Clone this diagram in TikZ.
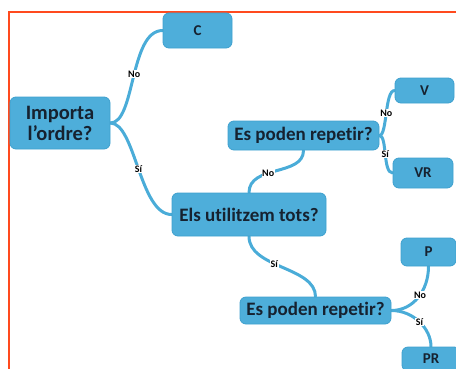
\documentclass[tikz,border=0pt]{standalone}
\usepackage{fontspec}
\setmainfont{Carlito}[Ligatures={NoCommon}]
\definecolor{boxblue}{RGB}{78,174,218}
\definecolor{boxedge}{RGB}{62,160,206}
\definecolor{lineblue}{RGB}{74,172,216}
\definecolor{txt}{RGB}{22,34,48}
\definecolor{frame}{RGB}{255,74,30}
\pgfdeclarelayer{background}
\pgfsetlayers{background,main}
\tikzset{
  box/.style={rectangle, rounded corners=6pt, fill=boxblue, draw=boxedge, line width=0.8pt,
    text=txt, inner sep=0pt, align=center},
  small/.style={font=\fontsize{15}{17}\selectfont\bfseries},
  big/.style={font=\fontsize{19}{21}\selectfont\bfseries},
  conn/.style={draw=lineblue, line width=3pt, line cap=round},
  lbl/.style={fill=white, inner sep=0.6pt, text=black, font=\fontsize{10}{11}\selectfont\bfseries}
}
\begin{document}
\begin{tikzpicture}[x=1pt,y=-1pt]
\useasboundingbox (0,0) rectangle (456,368);
\draw[frame, line width=2.4pt] (9,12) rectangle (480,400);

\node[box, small, minimum width=69pt, minimum height=35pt] (C) at (197.5,30.5) {C};
\node[box, minimum width=100pt, minimum height=52pt, font=\fontsize{20.5}{21}\selectfont\bfseries] (imp) at (60,123) {Importa\\l\char39ordre?};
\node[box, big, minimum width=151pt, minimum height=29pt] (est) at (303.5,135.5) {Es poden repetir?};
\node[box, small, minimum width=59pt, minimum height=25pt] (V) at (424.5,90.5) {V};
\node[box, small, minimum width=60pt, minimum height=30pt] (VR) at (423,173) {VR};
\node[box, big, minimum width=154pt, minimum height=43pt] (els) at (249,214.5) {Els utilitzem tots?};
\node[box, big, minimum width=151pt, minimum height=27pt] (esb) at (315.5,310.5) {Es poden repetir?};
\node[box, small, minimum width=55pt, minimum height=28pt] (P) at (428.5,252) {P};
\node[box, small, minimum width=58pt, minimum height=24pt, text depth=0pt] (PR) at (431,359) {PR};

\begin{pgfonlayer}{background}
\path[conn] (imp.east) .. controls +(25,0) and +(-33,0) .. (C.west) node[lbl, pos=0.52] {No};
\path[conn] (imp.east) .. controls +(25,0) and +(-32,0) .. (els.west) node[lbl, pos=0.5] {Sí};
\path[conn] (els.north) .. controls +(0,-28) and +(0,26) .. (est.south) node[lbl, pos=0.4] {No};
\path[conn] (els.south) .. controls +(0,32) and +(0,-30) .. (esb.north) node[lbl, pos=0.42] {Sí};
\path[conn] (est.east) .. controls +(8,0) and +(-10,0) .. (V.west) node[lbl, pos=0.5] {No};
\path[conn] (est.east) .. controls +(8,0) and +(-10,0) .. (VR.west) node[lbl, pos=0.5] {Sí};
\path[conn] (esb.east) .. controls +(22,0) and +(0,24) .. (P.south) node[lbl, pos=0.55] {No};
\path[conn] (esb.east) .. controls +(22,0) and +(0,-18) .. (PR.north) node[lbl, pos=0.5] {Sí};
\end{pgfonlayer}
\end{tikzpicture}
\end{document}
